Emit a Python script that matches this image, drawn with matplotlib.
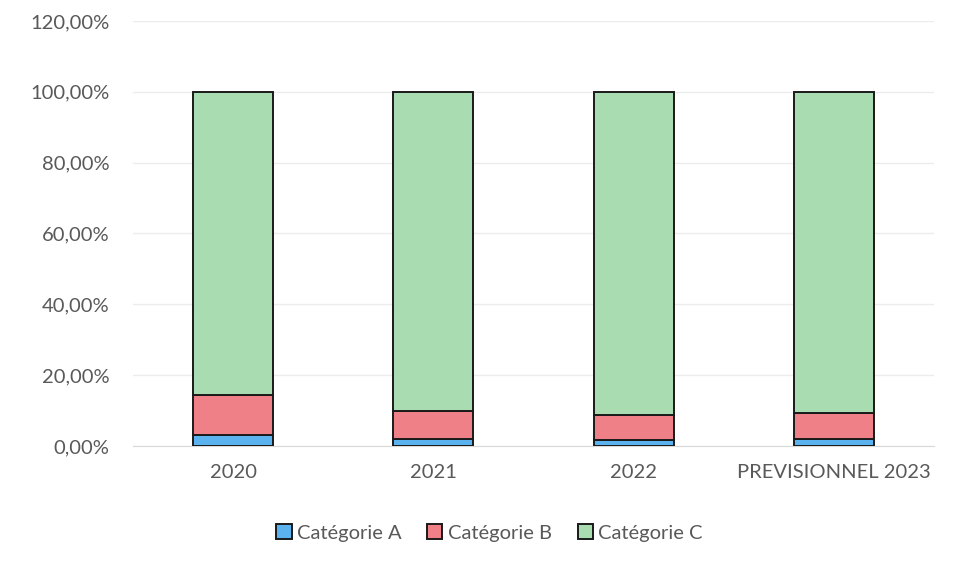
import numpy as np
import matplotlib.pyplot as plt
from matplotlib.ticker import FuncFormatter

plt.rcParams['font.family'] = ['Lato', 'DejaVu Sans']

years = ['2020', '2021', '2022', 'PREVISIONNEL 2023']
cat_a = [3.1, 2.0, 1.6, 2.0]
cat_b = [11.3, 8.0, 7.2, 7.2]
cat_c = [85.6, 90.0, 91.2, 90.8]
labels = ['Catégorie A', 'Catégorie B', 'Catégorie C']
colors = ['#5ab3ee', '#ef8088', '#a9dcb0']

fig = plt.figure(figsize=(9.54, 5.66), dpi=100)
ax = fig.add_axes([0.1394, 0.212, 0.8396, 0.751])

x = np.arange(len(years))
bottom = np.zeros(len(years))
for vals, lab, col in zip([cat_a, cat_b, cat_c], labels, colors):
    ax.bar(x, vals, 0.4, bottom=bottom, color=col, edgecolor='#1a1a1a',
           linewidth=1.4, label=lab, zorder=3)
    bottom += np.array(vals)

ax.set_xlim(-0.5, len(years) - 0.5)
ax.set_ylim(0, 120)
ax.set_yticks(np.arange(0, 121, 20))
ax.yaxis.set_major_formatter(FuncFormatter(lambda v, p: f'{v:.2f}%'.replace('.', ',')))
ax.set_xticks(x)
ax.set_xticklabels(years)
ax.grid(axis='y', color='#ececec', linewidth=1, zorder=0)
for s in ['top', 'right', 'left']:
    ax.spines[s].set_visible(False)
ax.spines['bottom'].set_color('#d9d9d9')
ax.tick_params(axis='both', length=0, labelsize=14.5, colors='#595959')
ax.tick_params(axis='x', pad=13)
ax.tick_params(axis='y', pad=17)

leg = fig.legend(loc='center', bbox_to_anchor=(0.513, 0.058), ncol=3, frameon=False,
                 fontsize=14.5, handlelength=0.75, handleheight=0.75,
                 handletextpad=0.25, columnspacing=1.3)
for t in leg.get_texts():
    t.set_color('#595959')

fig.savefig('out.png', dpi=100)
